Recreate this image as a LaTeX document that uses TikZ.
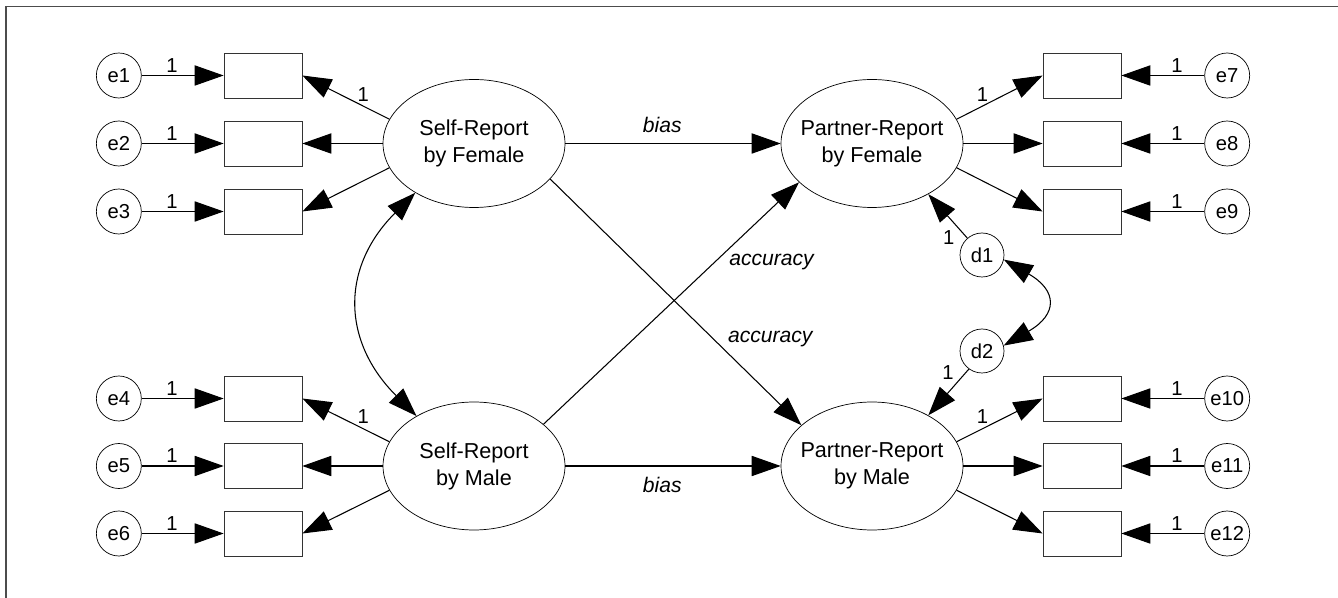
\documentclass[tikz,border=0pt]{standalone}
\usepackage{fontspec}
\setmainfont{Liberation Sans}
\usetikzlibrary{positioning, arrows.meta, shapes.geometric}

\begin{document}
\begin{tikzpicture}[
    x=0.02cm, y=0.02cm,
    latent/.style={
        draw,
        ellipse,
        minimum width=3.64cm,
        minimum height=2.56cm,
        inner xsep=-8pt,
        inner ysep=0pt,
        align=center,
        font=\fontsize{12.3}{15.4}\selectfont
    },
    indicator/.style={draw=black!80, minimum width=1.56cm, minimum height=0.9cm, inner sep=0pt},
    errvar/.style={draw, circle, minimum size=0.9cm, inner sep=0pt, font=\fontsize{11.5}{13}\selectfont},
    lbl/.style={font=\fontsize{11.5}{13}\selectfont, inner sep=1.5pt},
    pathlbl/.style={font=\fontsize{12}{14}\selectfont\itshape, inner sep=1pt},
    arr/.style={-{Triangle[length=16.5pt, width=11.5pt]}, line width=0.6pt},
    dblarr/.style={{Triangle[length=16.5pt, width=11.5pt]}-{Triangle[length=16.5pt, width=11.5pt]}, line width=0.6pt}
]
\useasboundingbox (0,0) rectangle (1338,598);
\draw[black!70, line width=1.1pt] (5.7,0) -- (5.7,591.5) -- (1338,591.5);

% === Latent variables ===
\node[latent] (sf) at (474,454.5) {Self-Report\\by Female};
\node[latent] (sm) at (474,132) {Self-Report\\by Male};
\node[latent] (pf) at (872,454.5) {Partner-Report\\by Female};
\node[latent] (pm) at (872,132) {Partner-Report\\by Male};

% === Indicators, left ===
\node[indicator] (x1) at (263,522.5) {};
\node[indicator] (x2) at (263,454.5) {};
\node[indicator] (x3) at (263,386.5) {};
\node[indicator] (x4) at (263,199.5) {};
\node[indicator] (x5) at (263,132) {};
\node[indicator] (x6) at (263,64.5) {};

% === Indicators, right ===
\node[indicator] (y1) at (1082,522.5) {};
\node[indicator] (y2) at (1082,454.5) {};
\node[indicator] (y3) at (1082,386.5) {};
\node[indicator] (y4) at (1082,199.5) {};
\node[indicator] (y5) at (1082,132) {};
\node[indicator] (y6) at (1082,64.5) {};

% === Error terms ===
\node[errvar, left=1.64cm of x1] (e1) {e1};
\node[errvar, left=1.64cm of x2] (e2) {e2};
\node[errvar, left=1.64cm of x3] (e3) {e3};
\node[errvar, left=1.64cm of x4] (e4) {e4};
\node[errvar, left=1.64cm of x5] (e5) {e5};
\node[errvar, left=1.64cm of x6] (e6) {e6};
\node[errvar, right=1.66cm of y1] (e7) {e7};
\node[errvar, right=1.66cm of y2] (e8) {e8};
\node[errvar, right=1.66cm of y3] (e9) {e9};
\node[errvar, right=1.66cm of y4] (e10) {e10};
\node[errvar, right=1.66cm of y5] (e11) {e11};
\node[errvar, right=1.66cm of y6] (e12) {e12};

% === Disturbances ===
\node[errvar, minimum size=0.88cm] (d1) at (982,343) {d1};
\node[errvar, minimum size=0.88cm] (d2) at (982,247) {d2};

% === Measurement arrows ===
\draw[arr] (e1) -- (x1) node[lbl, pos=0.37, above] {1};
\draw[arr] (e2) -- (x2) node[lbl, pos=0.37, above] {1};
\draw[arr] (e3) -- (x3) node[lbl, pos=0.37, above] {1};
\draw[arr] (e4) -- (x4) node[lbl, pos=0.37, above] {1};
\draw[arr] (e5) -- (x5) node[lbl, pos=0.37, above] {1};
\draw[arr] (e6) -- (x6) node[lbl, pos=0.37, above] {1};
\draw[arr] (e7) -- (y1) node[lbl, pos=0.33, above] {1};
\draw[arr] (e8) -- (y2) node[lbl, pos=0.33, above] {1};
\draw[arr] (e9) -- (y3) node[lbl, pos=0.33, above] {1};
\draw[arr] (e10) -- (y4) node[lbl, pos=0.33, above] {1};
\draw[arr] (e11) -- (y5) node[lbl, pos=0.33, above] {1};
\draw[arr] (e12) -- (y6) node[lbl, pos=0.33, above] {1};

\draw[arr] (sf.164) -- (x1.east) node[lbl, pos=0.3, above=1pt] {1};
\draw[arr] (sf.180) -- (x2.east);
\draw[arr] (sf.196) -- (x3.east);
\draw[arr] (sm.164) -- (x4.east) node[lbl, pos=0.3, above=1pt] {1};
\draw[arr] (sm.180) -- (x5.east);
\draw[arr] (sm.196) -- (x6.east);
\draw[arr] (pf.16) -- (y1.west) node[lbl, pos=0.3, above=1pt] {1};
\draw[arr] (pf.0) -- (y2.west);
\draw[arr] (pf.-16) -- (y3.west);
\draw[arr] (pm.16) -- (y4.west) node[lbl, pos=0.3, above=1pt] {1};
\draw[arr] (pm.0) -- (y5.west);
\draw[arr] (pm.-16) -- (y6.west);

% === Structural paths ===
\draw[arr] (sf) -- (pf) node[pathlbl, pos=0.45, above=5pt] {bias};
\draw[arr] (sm) -- (pm) node[pathlbl, pos=0.45, below=5pt] {bias};
\draw[arr] (sm.31) -- (pf.-152) node[pathlbl, pos=0.67, right=7pt] {accuracy};
\draw[arr] (sf.-25) -- (pm.150) node[pathlbl, pos=0.65, right=7pt] {accuracy};
\draw[arr] (d1.131) -- (pf.-42) node[lbl, pos=0.25, below left] {1};
\draw[arr] (d2.234) -- (pm.42) node[lbl, pos=0.3, above left] {1};

% === Covariances ===
\draw[dblarr] (sf.220) to[out=225, in=135, looseness=1.21] (sm.139);
\draw[dblarr] (d1.-12) to[out=-30, in=30, looseness=1.85] (d2.14);

\end{tikzpicture}
\end{document}
